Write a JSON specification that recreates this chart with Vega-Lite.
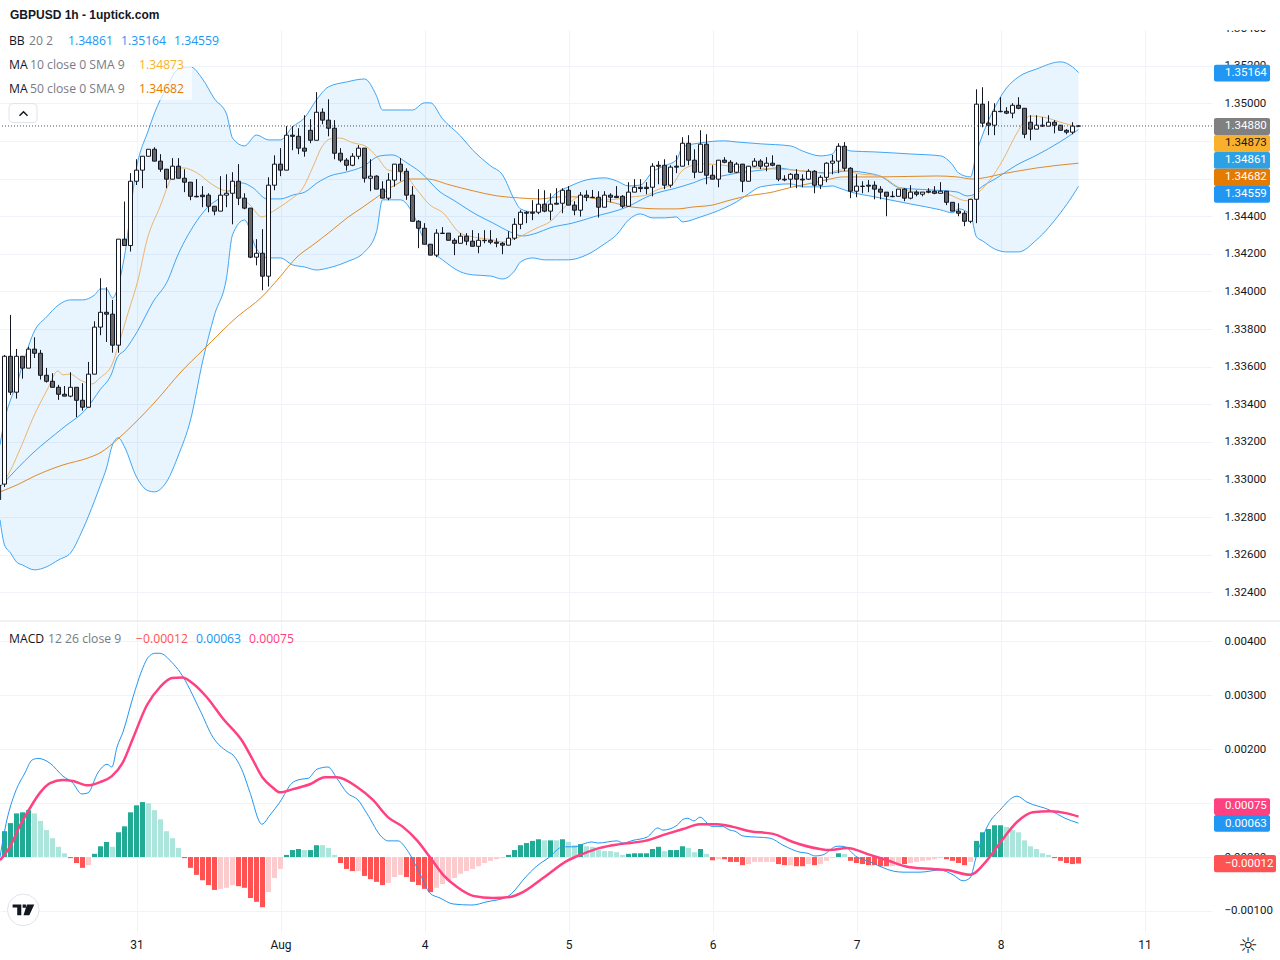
{
"$schema":"https://vega.github.io/schema/vega-lite/v6.json",
"padding":{"left":-1,"top":0,"right":0,"bottom":0},"spacing":0,"background":"white",
"resolve":{"scale":{"color":"independent"}},
"config":{"view":{"stroke":null},"text":{"font":"Open Sans"}},
"datasets":{
"candles":[
{"t":1.35,"o":1.32944,"h":1.32971,"l":1.32891,"c":1.3296},
{"t":2,"o":1.32975,"h":1.33662,"l":1.3296,"c":1.33655},{"t":3,"o":1.33655,"h":1.33875,"l":1.33449,"c":1.33464},{"t":4,"o":1.33464,"h":1.33694,"l":1.3343,"c":1.33655},{"t":5,"o":1.33655,"h":1.33655,"l":1.33536,"c":1.33592},{"t":6,"o":1.33592,"h":1.33706,"l":1.33592,"c":1.33693},{"t":7,"o":1.33693,"h":1.33756,"l":1.33646,"c":1.33671},{"t":8,"o":1.33671,"h":1.33689,"l":1.33531,"c":1.33554},{"t":9,"o":1.33554,"h":1.33593,"l":1.33515,"c":1.33522},{"t":10,"o":1.33522,"h":1.33565,"l":1.3349,"c":1.3349},
{"t":11,"o":1.3349,"h":1.33503,"l":1.33423,"c":1.33453},{"t":12,"o":1.33453,"h":1.33497,"l":1.33443,"c":1.33443},{"t":13,"o":1.33443,"h":1.3357,"l":1.33437,"c":1.3349},{"t":14,"o":1.3349,"h":1.3349,"l":1.33331,"c":1.33421},{"t":15,"o":1.33421,"h":1.33512,"l":1.33366,"c":1.33384},{"t":16,"o":1.33384,"h":1.33625,"l":1.33384,"c":1.3356},{"t":17,"o":1.3356,"h":1.33841,"l":1.3356,"c":1.3381},{"t":18,"o":1.3381,"h":1.3407,"l":1.33767,"c":1.33889},{"t":19,"o":1.33889,"h":1.34022,"l":1.33731,"c":1.33879},{"t":20,"o":1.33879,"h":1.33955,"l":1.33674,"c":1.33714},
{"t":21,"o":1.33714,"h":1.34278,"l":1.33674,"c":1.34278},{"t":22,"o":1.34278,"h":1.34478,"l":1.34244,"c":1.34244},{"t":23,"o":1.34244,"h":1.34629,"l":1.34212,"c":1.34586},{"t":24,"o":1.34586,"h":1.34703,"l":1.34566,"c":1.34645},{"t":25,"o":1.34645,"h":1.34719,"l":1.34549,"c":1.34719},{"t":26,"o":1.34719,"h":1.34756,"l":1.34719,"c":1.34756},{"t":27,"o":1.34756,"h":1.34767,"l":1.34693,"c":1.34693},{"t":28,"o":1.34693,"h":1.3473,"l":1.34636,"c":1.3465},{"t":29,"o":1.3465,"h":1.3465,"l":1.34549,"c":1.34597},{"t":30,"o":1.34597,"h":1.34709,"l":1.34597,"c":1.34666},
{"t":31,"o":1.34666,"h":1.34709,"l":1.34602,"c":1.34602},{"t":32,"o":1.34602,"h":1.3465,"l":1.34528,"c":1.34581},{"t":33,"o":1.34581,"h":1.34581,"l":1.34485,"c":1.34506},{"t":34,"o":1.34506,"h":1.34597,"l":1.34501,"c":1.34503},{"t":35,"o":1.34512,"h":1.3456,"l":1.34448,"c":1.34504},{"t":36,"o":1.34512,"h":1.34522,"l":1.34421,"c":1.34453},{"t":37,"o":1.34453,"h":1.34453,"l":1.34405,"c":1.34427},{"t":38,"o":1.34427,"h":1.34613,"l":1.34427,"c":1.34512},{"t":39,"o":1.34512,"h":1.34623,"l":1.34448,"c":1.34522},{"t":40,"o":1.34522,"h":1.34634,"l":1.34357,"c":1.34586},
{"t":41,"o":1.34586,"h":1.34677,"l":1.34459,"c":1.34496},{"t":42,"o":1.34496,"h":1.34522,"l":1.34437,"c":1.34443},{"t":43,"o":1.34443,"h":1.34443,"l":1.34177,"c":1.34182},{"t":44,"o":1.34182,"h":1.34278,"l":1.34139,"c":1.34203},{"t":45,"o":1.34203,"h":1.34331,"l":1.34006,"c":1.34081},{"t":46,"o":1.34081,"h":1.34607,"l":1.34026,"c":1.34565},{"t":47,"o":1.34565,"h":1.34724,"l":1.34538,"c":1.34677},{"t":48,"o":1.34677,"h":1.34762,"l":1.34613,"c":1.34645},{"t":49,"o":1.34645,"h":1.34879,"l":1.34645,"c":1.34831},{"t":50,"o":1.34831,"h":1.34879,"l":1.34751,"c":1.34825},
{"t":51,"o":1.34825,"h":1.34868,"l":1.3473,"c":1.34762},{"t":52,"o":1.34762,"h":1.34937,"l":1.34717,"c":1.34746},{"t":53,"o":1.34857,"h":1.34916,"l":1.34788,"c":1.34804},{"t":54,"o":1.34804,"h":1.3506,"l":1.34804,"c":1.34953},{"t":55,"o":1.34953,"h":1.34974,"l":1.34889,"c":1.34911},{"t":56,"o":1.34911,"h":1.35022,"l":1.34825,"c":1.34868},{"t":57,"o":1.34868,"h":1.34911,"l":1.34703,"c":1.34735},{"t":58,"o":1.34735,"h":1.34762,"l":1.34687,"c":1.34698},{"t":59,"o":1.34698,"h":1.34709,"l":1.34643,"c":1.34671},{"t":60,"o":1.34671,"h":1.34735,"l":1.34666,"c":1.34719},
{"t":61,"o":1.34719,"h":1.34778,"l":1.34703,"c":1.34762},{"t":62,"o":1.34762,"h":1.34762,"l":1.34579,"c":1.34602},{"t":63,"o":1.34602,"h":1.34703,"l":1.34533,"c":1.34613},{"t":64,"o":1.34613,"h":1.34618,"l":1.34544,"c":1.34544},{"t":65,"o":1.34544,"h":1.34586,"l":1.34496,"c":1.34496},{"t":66,"o":1.34496,"h":1.34629,"l":1.34485,"c":1.34592},{"t":67,"o":1.34592,"h":1.34677,"l":1.34557,"c":1.34677},{"t":68,"o":1.34677,"h":1.34709,"l":1.34586,"c":1.34639},{"t":69,"o":1.34639,"h":1.34655,"l":1.34487,"c":1.34512},{"t":70,"o":1.34512,"h":1.3456,"l":1.34373,"c":1.34373},
{"t":71,"o":1.34373,"h":1.34379,"l":1.3423,"c":1.34336},{"t":72,"o":1.34336,"h":1.34363,"l":1.34251,"c":1.34251},{"t":73,"o":1.34251,"h":1.34251,"l":1.34193,"c":1.34193},{"t":74,"o":1.34193,"h":1.34331,"l":1.34182,"c":1.3431},{"t":75,"o":1.34308,"h":1.34342,"l":1.34308,"c":1.3431},{"t":76,"o":1.3431,"h":1.3431,"l":1.34272,"c":1.34272},{"t":77,"o":1.34272,"h":1.34283,"l":1.34193,"c":1.34256},{"t":78,"o":1.34256,"h":1.3431,"l":1.34256,"c":1.34294},{"t":79,"o":1.34294,"h":1.3431,"l":1.34246,"c":1.34267},{"t":80,"o":1.34267,"h":1.34326,"l":1.3424,"c":1.3424},
{"t":81,"o":1.3424,"h":1.3431,"l":1.34203,"c":1.34272},{"t":82,"o":1.3427,"h":1.34326,"l":1.34256,"c":1.34272},{"t":83,"o":1.34272,"h":1.34326,"l":1.34251,"c":1.34262},{"t":84,"o":1.34262,"h":1.34283,"l":1.34235,"c":1.34256},{"t":85,"o":1.34256,"h":1.34262,"l":1.34198,"c":1.34246},{"t":86,"o":1.34246,"h":1.3432,"l":1.34246,"c":1.34283},{"t":87,"o":1.34283,"h":1.34389,"l":1.34274,"c":1.34357},{"t":88,"o":1.34357,"h":1.34432,"l":1.34331,"c":1.34421},{"t":89,"o":1.34421,"h":1.34427,"l":1.34363,"c":1.34416},{"t":90,"o":1.34421,"h":1.34485,"l":1.34379,"c":1.34416},
{"t":91,"o":1.34421,"h":1.34544,"l":1.34411,"c":1.34464},{"t":92,"o":1.34464,"h":1.34538,"l":1.34421,"c":1.34427},{"t":93,"o":1.34427,"h":1.34522,"l":1.34379,"c":1.34464},{"t":94,"o":1.34469,"h":1.34549,"l":1.34464,"c":1.34464},{"t":95,"o":1.34469,"h":1.34549,"l":1.34416,"c":1.34538},{"t":96,"o":1.34538,"h":1.3456,"l":1.34459,"c":1.34459},{"t":97,"o":1.34459,"h":1.3448,"l":1.34405,"c":1.34432},{"t":98,"o":1.34432,"h":1.34528,"l":1.34398,"c":1.34512},{"t":99,"o":1.34512,"h":1.34538,"l":1.3448,"c":1.34501},{"t":100,"o":1.34499,"h":1.3454,"l":1.34499,"c":1.34501},
{"t":101,"o":1.34501,"h":1.34533,"l":1.34393,"c":1.34448},{"t":102,"o":1.34448,"h":1.34533,"l":1.34448,"c":1.34512},{"t":103,"o":1.34512,"h":1.34522,"l":1.34474,"c":1.34501},{"t":104,"o":1.34506,"h":1.3456,"l":1.34499,"c":1.34499},{"t":105,"o":1.34506,"h":1.34512,"l":1.34443,"c":1.34453},{"t":106,"o":1.34453,"h":1.34581,"l":1.34453,"c":1.34528},{"t":107,"o":1.34528,"h":1.34597,"l":1.34528,"c":1.34554},{"t":108,"o":1.34554,"h":1.34597,"l":1.34528,"c":1.34547},{"t":109,"o":1.34554,"h":1.34581,"l":1.34517,"c":1.34547},{"t":110,"o":1.34554,"h":1.34682,"l":1.34506,"c":1.34666},
{"t":111,"o":1.34671,"h":1.34693,"l":1.3457,"c":1.34666},{"t":112,"o":1.34671,"h":1.34703,"l":1.34544,"c":1.34565},{"t":113,"o":1.34565,"h":1.34671,"l":1.34552,"c":1.34661},{"t":114,"o":1.34666,"h":1.34724,"l":1.34629,"c":1.34661},{"t":115,"o":1.34666,"h":1.3482,"l":1.34666,"c":1.34788},{"t":116,"o":1.34788,"h":1.34831,"l":1.34671,"c":1.34698},{"t":117,"o":1.34698,"h":1.34756,"l":1.34602,"c":1.34634},{"t":118,"o":1.34634,"h":1.34857,"l":1.34634,"c":1.34783},{"t":119,"o":1.34783,"h":1.34836,"l":1.3457,"c":1.34618},{"t":120,"o":1.34618,"h":1.34671,"l":1.34597,"c":1.34597},
{"t":121,"o":1.34597,"h":1.34698,"l":1.34554,"c":1.34698},{"t":122,"o":1.34698,"h":1.34714,"l":1.34682,"c":1.34687},{"t":123,"o":1.34687,"h":1.34698,"l":1.34629,"c":1.34634},{"t":124,"o":1.34634,"h":1.34687,"l":1.34629,"c":1.34677},{"t":125,"o":1.34677,"h":1.34677,"l":1.34528,"c":1.34586},{"t":126,"o":1.34586,"h":1.34666,"l":1.34586,"c":1.34666},{"t":127,"o":1.34666,"h":1.34709,"l":1.34661,"c":1.34693},{"t":128,"o":1.34693,"h":1.34703,"l":1.3465,"c":1.34666},{"t":129,"o":1.34666,"h":1.34714,"l":1.34639,"c":1.34682},{"t":130,"o":1.34682,"h":1.34724,"l":1.34666,"c":1.34671},
{"t":131,"o":1.34671,"h":1.34671,"l":1.34586,"c":1.34597},{"t":132,"o":1.34597,"h":1.34618,"l":1.34586,"c":1.34593},{"t":133,"o":1.34597,"h":1.34629,"l":1.34554,"c":1.34623},{"t":134,"o":1.34623,"h":1.3465,"l":1.34549,"c":1.34597},{"t":135,"o":1.34597,"h":1.34623,"l":1.34554,"c":1.34593},{"t":136,"o":1.34597,"h":1.3465,"l":1.34593,"c":1.34639},{"t":137,"o":1.34639,"h":1.34645,"l":1.34522,"c":1.34565},{"t":138,"o":1.34565,"h":1.34618,"l":1.34544,"c":1.34607},{"t":139,"o":1.34607,"h":1.34687,"l":1.34581,"c":1.34682},{"t":140,"o":1.34682,"h":1.34726,"l":1.34623,"c":1.34693},
{"t":141,"o":1.34693,"h":1.34788,"l":1.34629,"c":1.34772},{"t":142,"o":1.34772,"h":1.34794,"l":1.34639,"c":1.34655},{"t":143,"o":1.34655,"h":1.34661,"l":1.34496,"c":1.34533},{"t":144,"o":1.34533,"h":1.34623,"l":1.34501,"c":1.3456},{"t":145,"o":1.34558,"h":1.34586,"l":1.34522,"c":1.3456},{"t":146,"o":1.34565,"h":1.34592,"l":1.34528,"c":1.3456},{"t":147,"o":1.34565,"h":1.34586,"l":1.3449,"c":1.34544},{"t":148,"o":1.34544,"h":1.3456,"l":1.3449,"c":1.34528},{"t":149,"o":1.34528,"h":1.34528,"l":1.344,"c":1.34506},{"t":150,"o":1.34504,"h":1.34533,"l":1.34501,"c":1.34506},
{"t":151,"o":1.34506,"h":1.34544,"l":1.34506,"c":1.34544},{"t":152,"o":1.34544,"h":1.34549,"l":1.3448,"c":1.34496},{"t":153,"o":1.34496,"h":1.34565,"l":1.3449,"c":1.34528},{"t":154,"o":1.34528,"h":1.34538,"l":1.34506,"c":1.34517},{"t":155,"o":1.34517,"h":1.34528,"l":1.34506,"c":1.34528},{"t":156,"o":1.34533,"h":1.34549,"l":1.34522,"c":1.34528},{"t":157,"o":1.34533,"h":1.3456,"l":1.34517,"c":1.34522},{"t":158,"o":1.34522,"h":1.34581,"l":1.34522,"c":1.34533},{"t":159,"o":1.34533,"h":1.34533,"l":1.34459,"c":1.34474},{"t":160,"o":1.34474,"h":1.34474,"l":1.34427,"c":1.34427},
{"t":161,"o":1.34427,"h":1.34469,"l":1.344,"c":1.34416},{"t":162,"o":1.34416,"h":1.34427,"l":1.34347,"c":1.34373},{"t":163,"o":1.34373,"h":1.3449,"l":1.34363,"c":1.3449},{"t":164,"o":1.3449,"h":1.35075,"l":1.34363,"c":1.34996},{"t":165,"o":1.34996,"h":1.35086,"l":1.34873,"c":1.34895},{"t":166,"o":1.34895,"h":1.35012,"l":1.34831,"c":1.34884},{"t":167,"o":1.34884,"h":1.35001,"l":1.34831,"c":1.34958},{"t":168,"o":1.34956,"h":1.35033,"l":1.34953,"c":1.34958},{"t":169,"o":1.34958,"h":1.3498,"l":1.34943,"c":1.34948},{"t":170,"o":1.34948,"h":1.35001,"l":1.34921,"c":1.3499},
{"t":171,"o":1.3499,"h":1.35033,"l":1.34969,"c":1.34974},{"t":172,"o":1.34974,"h":1.34974,"l":1.34815,"c":1.34836},{"t":173,"o":1.349,"h":1.34937,"l":1.34804,"c":1.34863},{"t":174,"o":1.34863,"h":1.34937,"l":1.34863,"c":1.34884},{"t":175,"o":1.34884,"h":1.34927,"l":1.34875,"c":1.34879},{"t":176,"o":1.34879,"h":1.34937,"l":1.34879,"c":1.349},{"t":177,"o":1.349,"h":1.34911,"l":1.34841,"c":1.34884},{"t":178,"o":1.34884,"h":1.34884,"l":1.34857,"c":1.34857},{"t":179,"o":1.34857,"h":1.34863,"l":1.34836,"c":1.34847},{"t":180,"o":1.34847,"h":1.349,"l":1.34836,"c":1.34879},{"t":181,"o":1.34879,"h":1.34884,"l":1.34876,"c":1.3488}
],
"bands":[
{"t":1.25,"u":1.33184,"d":1.32785},{"t":2,"u":1.33316,"d":1.32652},{"t":3,"u":1.33423,"d":1.32609},{"t":4,"u":1.33503,"d":1.32561},{"t":5,"u":1.33609,"d":1.32545},{"t":7,"u":1.3379,"d":1.32519},{"t":9,"u":1.33864,"d":1.32535},{"t":11,"u":1.33928,"d":1.32572},{"t":13,"u":1.33955,"d":1.32609},{"t":15,"u":1.33955,"d":1.32731},{"t":17,"u":1.33981,"d":1.32886},{"t":18,"u":1.34013,"d":1.32971},{"t":19,"u":1.34013,"d":1.33061},{"t":20,"u":1.33965,"d":1.33184},{"t":21,"u":1.34035,"d":1.33221},{"t":22,"u":1.34189,"d":1.33173},{"t":24,"u":1.34657,"d":1.33013},{"t":26,"u":1.34859,"d":1.32939},{"t":27,"u":1.34949,"d":1.32934},{"t":29,"u":1.35082,"d":1.32987},{"t":31,"u":1.35183,"d":1.3313},{"t":33,"u":1.35194,"d":1.33316},{"t":35,"u":1.3513,"d":1.33625},{"t":37,"u":1.35024,"d":1.33875},{"t":39,"u":1.34944,"d":1.34072},{"t":40,"u":1.34816,"d":1.34301},{"t":42,"u":1.34774,"d":1.3438},{"t":44,"u":1.34832,"d":1.34226},{"t":46,"u":1.34806,"d":1.34178},{"t":48,"u":1.34806,"d":1.34178},{"t":50,"u":1.34875,"d":1.34141},{"t":52,"u":1.34923,"d":1.3413},{"t":54,"u":1.35019,"d":1.34114},{"t":56,"u":1.35088,"d":1.34125},{"t":59,"u":1.35114,"d":1.34157},{"t":62,"u":1.3513,"d":1.3421},{"t":64,"u":1.3504,"d":1.34317},{"t":65,"u":1.34965,"d":1.34487},{"t":68,"u":1.34965,"d":1.34487},{"t":70,"u":1.34965,"d":1.34418},{"t":72,"u":1.35003,"d":1.34269},{"t":73,"u":1.35003,"d":1.34221},{"t":75,"u":1.34918,"d":1.34168},{"t":78,"u":1.34827,"d":1.34104},{"t":80,"u":1.34753,"d":1.34088},{"t":83,"u":1.34668,"d":1.34082},{"t":85,"u":1.3462,"d":1.34066},{"t":87,"u":1.34487,"d":1.34109},{"t":88,"u":1.34439,"d":1.34157},{"t":90,"u":1.34423,"d":1.34178},{"t":92,"u":1.3446,"d":1.34168},{"t":94,"u":1.34524,"d":1.34168},{"t":96,"u":1.34556,"d":1.34168},{"t":99,"u":1.34593,"d":1.34194},{"t":102,"u":1.34604,"d":1.34253},{"t":104,"u":1.34588,"d":1.34301},{"t":106,"u":1.34561,"d":1.3438},{"t":108,"u":1.34566,"d":1.34412},{"t":110,"u":1.34636,"d":1.34391},{"t":112,"u":1.34668,"d":1.34391},{"t":114,"u":1.34699,"d":1.34396},{"t":115,"u":1.34769,"d":1.3437},{"t":118,"u":1.3479,"d":1.34396},{"t":122,"u":1.34801,"d":1.34444},{"t":124,"u":1.34795,"d":1.34476},{"t":126,"u":1.3479,"d":1.34519},{"t":128,"u":1.34785,"d":1.34556},{"t":133,"u":1.34774,"d":1.34572},{"t":135,"u":1.34747,"d":1.34556},{"t":138,"u":1.34721,"d":1.34556},{"t":140,"u":1.34731,"d":1.34561},{"t":141,"u":1.34774,"d":1.34551},{"t":143,"u":1.34747,"d":1.34529},{"t":147,"u":1.34742,"d":1.34503},{"t":153,"u":1.34731,"d":1.34465},{"t":158,"u":1.34721,"d":1.34434},{"t":160,"u":1.34673,"d":1.34418},{"t":161,"u":1.3463,"d":1.34439},{"t":163,"u":1.34609,"d":1.34407},{"t":164,"u":1.34737,"d":1.3429},{"t":165,"u":1.34832,"d":1.34269},{"t":167,"u":1.34976,"d":1.34226},{"t":169,"u":1.35082,"d":1.3421},{"t":171,"u":1.35141,"d":1.3421},{"t":174,"u":1.35183,"d":1.34274},{"t":178,"u":1.35221,"d":1.34418},{"t":180,"u":1.35194,"d":1.34508},{"t":181,"u":1.35164,"d":1.34559}
],
"basis":[
{"t":1.25,"v":1.3296},{"t":6.75,"v":1.33141},{"t":11.75,"v":1.33274},{"t":15.75,"v":1.3338},{"t":17.9,"v":1.33476},{"t":19.9,"v":1.33566},{"t":20.75,"v":1.33646},{"t":22.1,"v":1.33689},{"t":24.1,"v":1.33785},{"t":26.75,"v":1.33944},{"t":29.25,"v":1.34061},{"t":30.75,"v":1.34183},{"t":33.4,"v":1.34343},{"t":35.9,"v":1.34449},{"t":37.9,"v":1.34497},{"t":39.6,"v":1.3454},{"t":41.6,"v":1.34577},{"t":43.4,"v":1.34551},{"t":45.75,"v":1.34492},{"t":48,"v":1.34492},{"t":50.1,"v":1.34513},{"t":52.1,"v":1.34529},{"t":54.1,"v":1.34577},{"t":56.25,"v":1.34614},{"t":59.1,"v":1.34636},{"t":61.6,"v":1.34662},{"t":64.6,"v":1.34721},{"t":66.6,"v":1.34726},{"t":69.1,"v":1.34683},{"t":71.25,"v":1.34636},{"t":74.6,"v":1.34529},{"t":76.75,"v":1.34487},{"t":80.75,"v":1.34407},{"t":83.4,"v":1.34364},{"t":86.25,"v":1.34317},{"t":88.4,"v":1.34295},{"t":90.75,"v":1.34311},{"t":92.9,"v":1.34338},{"t":96.75,"v":1.34364},{"t":100.1,"v":1.34396},{"t":105.75,"v":1.34449},{"t":109.1,"v":1.34503},{"t":110.75,"v":1.34524},{"t":113.4,"v":1.34545},{"t":116.75,"v":1.34577},{"t":119.1,"v":1.34604},{"t":120.75,"v":1.34609},{"t":124.1,"v":1.3463},{"t":128.4,"v":1.34646},{"t":130.75,"v":1.34657},{"t":133.4,"v":1.34646},{"t":136.25,"v":1.34636},{"t":139.6,"v":1.3463},{"t":142.4,"v":1.34641},{"t":145.75,"v":1.3463},{"t":147.9,"v":1.34614},{"t":151.25,"v":1.34551},{"t":156.25,"v":1.3454},{"t":160.75,"v":1.34529},{"t":162.4,"v":1.34508},{"t":163.4,"v":1.34513},{"t":164.25,"v":1.3454},{"t":167.4,"v":1.34604},{"t":170.75,"v":1.34673},{"t":174.1,"v":1.34726},{"t":177.9,"v":1.34795},{"t":181,"v":1.34861}
],
"ma10":[
{"t":1.25,"v":1.3296},{"t":2.4,"v":1.33013},{"t":4.9,"v":1.33184},{"t":6.75,"v":1.33327},{"t":9.1,"v":1.33476},{"t":10.9,"v":1.33577},{"t":11.75,"v":1.33556},{"t":12.9,"v":1.33561},{"t":14.6,"v":1.33529},{"t":16.6,"v":1.33508},{"t":17.9,"v":1.3354},{"t":19.9,"v":1.33609},{"t":20.9,"v":1.33705},{"t":22.6,"v":1.33886},{"t":24.25,"v":1.34061},{"t":25.75,"v":1.34274},{"t":27.9,"v":1.34449},{"t":30.1,"v":1.3462},{"t":31.75,"v":1.34657},{"t":34.1,"v":1.3463},{"t":36.25,"v":1.34577},{"t":38.25,"v":1.3454},{"t":40.1,"v":1.34529},{"t":42.9,"v":1.3446},{"t":44.9,"v":1.34396},{"t":46.6,"v":1.34423},{"t":47.9,"v":1.34449},{"t":49.6,"v":1.34487},{"t":51.75,"v":1.34551},{"t":53.4,"v":1.34662},{"t":54.9,"v":1.34769},{"t":56.25,"v":1.34811},{"t":57.9,"v":1.34816},{"t":60.1,"v":1.3479},{"t":62.1,"v":1.34774},{"t":64.1,"v":1.34715},{"t":65.9,"v":1.34646},{"t":68.4,"v":1.3463},{"t":70.75,"v":1.3454},{"t":72.9,"v":1.3446},{"t":75.1,"v":1.34418},{"t":77.9,"v":1.34311},{"t":80.1,"v":1.3429},{"t":83.4,"v":1.34274},{"t":85.1,"v":1.34263},{"t":87.4,"v":1.34285},{"t":90.75,"v":1.34338},{"t":92.9,"v":1.3437},{"t":95.75,"v":1.3446},{"t":97.9,"v":1.34503},{"t":100.75,"v":1.34492},{"t":102.4,"v":1.34487},{"t":106.6,"v":1.34503},{"t":109.1,"v":1.34513},{"t":110.75,"v":1.3454},{"t":113.4,"v":1.34572},{"t":114.6,"v":1.3463},{"t":115.9,"v":1.34662},{"t":118.4,"v":1.34678},{"t":121.25,"v":1.34673},{"t":124.1,"v":1.34662},{"t":127.4,"v":1.34657},{"t":130.1,"v":1.34651},{"t":133.4,"v":1.34646},{"t":136.75,"v":1.34636},{"t":139.1,"v":1.34625},{"t":141.25,"v":1.34646},{"t":144.6,"v":1.34625},{"t":147.9,"v":1.34614},{"t":151.25,"v":1.34551},{"t":154.1,"v":1.34529},{"t":158.4,"v":1.34524},{"t":162.4,"v":1.34482},{"t":163.4,"v":1.34503},{"t":166.25,"v":1.34593},{"t":168.4,"v":1.34699},{"t":170.75,"v":1.34843},{"t":172.9,"v":1.34933},{"t":175.75,"v":1.34923},{"t":177.9,"v":1.34901},{"t":181,"v":1.34873}
],
"ma50":[
{"t":1.25,"v":1.32934},{"t":4.1,"v":1.32971},{"t":7.1,"v":1.33019},{"t":11.75,"v":1.33077},{"t":15.9,"v":1.33114},{"t":17.9,"v":1.33141},{"t":20.9,"v":1.33215},{"t":23.4,"v":1.3329},{"t":27.4,"v":1.33423},{"t":31.25,"v":1.33566},{"t":35.1,"v":1.33689},{"t":40.75,"v":1.33864},{"t":44.9,"v":1.33971},{"t":47.9,"v":1.34077},{"t":50.75,"v":1.34183},{"t":53.4,"v":1.34247},{"t":56.25,"v":1.34317},{"t":59.1,"v":1.34391},{"t":61.75,"v":1.34449},{"t":64.6,"v":1.34513},{"t":67.1,"v":1.34566},{"t":69.6,"v":1.34598},{"t":72.4,"v":1.34598},{"t":76.25,"v":1.34566},{"t":80.1,"v":1.34535},{"t":84.1,"v":1.34508},{"t":87.9,"v":1.34497},{"t":91.25,"v":1.34492},{"t":94.6,"v":1.34503},{"t":98.4,"v":1.34503},{"t":102.9,"v":1.34476},{"t":106.6,"v":1.34449},{"t":111.25,"v":1.34439},{"t":114.1,"v":1.34439},{"t":116.75,"v":1.34449},{"t":120.1,"v":1.3446},{"t":122.4,"v":1.34481},{"t":125.1,"v":1.34503},{"t":130.1,"v":1.34529},{"t":133.4,"v":1.34556},{"t":136.75,"v":1.34577},{"t":139.6,"v":1.34598},{"t":141.75,"v":1.34609},{"t":147.9,"v":1.34609},{"t":157.4,"v":1.34614},{"t":160.75,"v":1.34609},{"t":163.25,"v":1.34598},{"t":169.1,"v":1.3463},{"t":174.1,"v":1.34657},{"t":181,"v":1.34682}
],
"macd":[
{"t":1.25,"v":0},{"t":2.4,"v":0.00069},{"t":3.75,"v":0.00119},{"t":5.4,"v":0.00156},{"t":6.6,"v":0.0018},{"t":7.6,"v":0.00183},{"t":9.6,"v":0.00174},{"t":11.75,"v":0.0015},{"t":13.25,"v":0.00139},{"t":14.9,"v":0.00117},{"t":15.9,"v":0.00119},{"t":17.6,"v":0.00157},{"t":19.1,"v":0.00172},{"t":19.9,"v":0.00167},{"t":20.75,"v":0.00204},{"t":21.75,"v":0.00232},{"t":23.4,"v":0.00296},{"t":25.1,"v":0.00352},{"t":25.9,"v":0.0037},{"t":27.1,"v":0.00378},{"t":27.9,"v":0.00378},{"t":29.9,"v":0.00361},{"t":31.25,"v":0.00343},{"t":34.6,"v":0.00272},{"t":36.75,"v":0.00222},{"t":39.1,"v":0.00196},{"t":40.1,"v":0.00189},{"t":41.75,"v":0.00157},{"t":42.9,"v":0.0012},{"t":44.9,"v":0.00061},{"t":46.25,"v":0.00078},{"t":47.9,"v":0.00102},{"t":49.9,"v":0.00137},{"t":51.25,"v":0.00144},{"t":52.6,"v":0.00146},{"t":54.1,"v":0.00163},{"t":55.9,"v":0.00167},{"t":57.4,"v":0.00146},{"t":59.1,"v":0.00119},{"t":60.9,"v":0.00106},{"t":62.4,"v":0.00081},{"t":64.9,"v":0.00037},{"t":65.9,"v":0.0003},{"t":67.6,"v":0.0003},{"t":69.1,"v":0.00013},{"t":71.25,"v":-0.00031},{"t":72.9,"v":-0.00067},{"t":74.6,"v":-0.00076},{"t":76.75,"v":-0.00087},{"t":79.9,"v":-0.00089},{"t":82.4,"v":-0.00083},{"t":85.75,"v":-0.00074},{"t":87.1,"v":-0.00061},{"t":88.4,"v":-0.00043},{"t":90.9,"v":-0.00015},{"t":92.6,"v":-0.00002},{"t":95.1,"v":0.00019},{"t":97.1,"v":0.00019},{"t":98.4,"v":0.00024},{"t":99.9,"v":0.00028},{"t":100.9,"v":0.00026},{"t":104.1,"v":0.0003},{"t":105.1,"v":0.00026},{"t":106.75,"v":0.00031},{"t":109.1,"v":0.00037},{"t":110.9,"v":0.00054},{"t":111.75,"v":0.0005},{"t":114.1,"v":0.00059},{"t":115.1,"v":0.0007},{"t":115.9,"v":0.00072},{"t":116.9,"v":0.00067},{"t":117.9,"v":0.00074},{"t":119.9,"v":0.00057},{"t":121.6,"v":0.00057},{"t":122.9,"v":0.0005},{"t":123.75,"v":0.00048},{"t":125.1,"v":0.00039},{"t":129.6,"v":0.00035},{"t":131.75,"v":0.00022},{"t":134.6,"v":0.00009},{"t":135.9,"v":0.00007},{"t":137.1,"v":0.00002},{"t":138.4,"v":0.00004},{"t":140.75,"v":0.0002},{"t":141.75,"v":0.0002},{"t":144.1,"v":0},{"t":146.25,"v":-0.00009},{"t":150.1,"v":-0.00026},{"t":151.75,"v":-0.00028},{"t":154.6,"v":-0.00028},{"t":157.9,"v":-0.00024},{"t":160.1,"v":-0.00033},{"t":161.75,"v":-0.00044},{"t":162.9,"v":-0.00039},{"t":164.1,"v":0.00007},{"t":165.9,"v":0.00059},{"t":167.9,"v":0.00087},{"t":170.75,"v":0.00113},{"t":172.4,"v":0.00102},{"t":176.25,"v":0.00087},{"t":178.75,"v":0.00072},{"t":181,"v":0.00063}
],
"signal":[
{"t":1.25,"v":-0.00006},{"t":2.9,"v":0.00019},{"t":4.6,"v":0.00059},{"t":6.25,"v":0.00091},{"t":7.9,"v":0.00119},{"t":9.6,"v":0.00137},{"t":11.75,"v":0.00143},{"t":13.4,"v":0.00141},{"t":15.9,"v":0.00133},{"t":17.9,"v":0.00139},{"t":19.9,"v":0.0015},{"t":21.75,"v":0.00176},{"t":23.4,"v":0.0022},{"t":25.75,"v":0.00282},{"t":27.9,"v":0.00315},{"t":29.9,"v":0.00332},{"t":31.6,"v":0.00333},{"t":33.4,"v":0.00322},{"t":35.75,"v":0.00296},{"t":38.4,"v":0.00257},{"t":41.75,"v":0.00213},{"t":43.4,"v":0.0018},{"t":45.1,"v":0.00146},{"t":46.6,"v":0.0013},{"t":47.9,"v":0.0012},{"t":50.1,"v":0.00126},{"t":52.9,"v":0.00135},{"t":55.4,"v":0.00148},{"t":57.4,"v":0.00148},{"t":60.75,"v":0.0013},{"t":63.4,"v":0.00106},{"t":65.9,"v":0.00074},{"t":68.4,"v":0.00056},{"t":70.75,"v":0.00031},{"t":72.9,"v":0},{"t":75.1,"v":-0.00033},{"t":77.6,"v":-0.00057},{"t":80.1,"v":-0.00072},{"t":83.4,"v":-0.00076},{"t":86.25,"v":-0.00074},{"t":88.4,"v":-0.00065},{"t":91.75,"v":-0.00039},{"t":95.75,"v":-0.00007},{"t":98.4,"v":0.00006},{"t":101.25,"v":0.00017},{"t":104.6,"v":0.00024},{"t":108.75,"v":0.0003},{"t":112.4,"v":0.00043},{"t":115.1,"v":0.00052},{"t":117.9,"v":0.00061},{"t":120.75,"v":0.00061},{"t":123.4,"v":0.00056},{"t":126.25,"v":0.00048},{"t":130.1,"v":0.00043},{"t":133.4,"v":0.00028},{"t":137.9,"v":0.00015},{"t":139.6,"v":0.00013},{"t":142.4,"v":0.00017},{"t":146.25,"v":0.00004},{"t":149.1,"v":-0.00006},{"t":152.9,"v":-0.00019},{"t":156.75,"v":-0.00022},{"t":159.1,"v":-0.00024},{"t":162.9,"v":-0.00033},{"t":165.75,"v":-0.00006},{"t":167.9,"v":0.00026},{"t":170.75,"v":0.00065},{"t":173.4,"v":0.00083},{"t":176.25,"v":0.00085},{"t":179.1,"v":0.00081},{"t":181,"v":0.00075}
],
"hist":[
{"t":2,"v":0.00048,"k":"gs"},{"t":3,"v":0.00063,"k":"gs"},{"t":4,"v":0.00081,"k":"gs"},{"t":5,"v":0.00083,"k":"gs"},{"t":6,"v":0.00087,"k":"gs"},{"t":7,"v":0.00081,"k":"gw"},{"t":8,"v":0.00067,"k":"gw"},{"t":9,"v":0.0005,"k":"gw"},{"t":10,"v":0.00035,"k":"gw"},{"t":11,"v":0.00019,"k":"gw"},{"t":12,"v":0.00007,"k":"gw"},{"t":13,"v":-0.00002,"k":"rs"},{"t":14,"v":-0.00011,"k":"rs"},{"t":15,"v":-0.0002,"k":"rs"},{"t":16,"v":-0.00015,"k":"rw"},{"t":17,"v":0.00006,"k":"gs"},{"t":18,"v":0.0002,"k":"gs"},{"t":19,"v":0.00028,"k":"gs"},{"t":20,"v":0.00019,"k":"gw"},{"t":21,"v":0.00046,"k":"gs"},{"t":22,"v":0.00057,"k":"gs"},{"t":23,"v":0.00083,"k":"gs"},{"t":24,"v":0.00096,"k":"gs"},{"t":25,"v":0.00102,"k":"gs"},{"t":26,"v":0.001,"k":"gw"},{"t":27,"v":0.00087,"k":"gw"},{"t":28,"v":0.0007,"k":"gw"},{"t":29,"v":0.00048,"k":"gw"},{"t":30,"v":0.00035,"k":"gw"},{"t":31,"v":0.00017,"k":"gw"},{"t":32,"v":-0.00002,"k":"rs"},{"t":33,"v":-0.0002,"k":"rs"},{"t":34,"v":-0.00033,"k":"rs"},{"t":35,"v":-0.00043,"k":"rs"},{"t":36,"v":-0.00052,"k":"rs"},{"t":37,"v":-0.00061,"k":"rs"},{"t":38,"v":-0.00059,"k":"rw"},{"t":39,"v":-0.00057,"k":"rw"},{"t":40,"v":-0.00052,"k":"rw"},{"t":41,"v":-0.00054,"k":"rs"},{"t":42,"v":-0.00057,"k":"rs"},{"t":43,"v":-0.00076,"k":"rs"},{"t":44,"v":-0.00083,"k":"rs"},{"t":45,"v":-0.00093,"k":"rs"},{"t":46,"v":-0.00065,"k":"rw"},{"t":47,"v":-0.00039,"k":"rw"},{"t":48,"v":-0.00022,"k":"rw"},{"t":49,"v":0.00004,"k":"gs"},{"t":50,"v":0.00013,"k":"gs"},{"t":51,"v":0.00015,"k":"gs"},{"t":52,"v":0.00013,"k":"gw"},{"t":53,"v":0.00013,"k":"gs"},{"t":54,"v":0.00022,"k":"gs"},{"t":55,"v":0.00022,"k":"gw"},{"t":56,"v":0.00017,"k":"gw"},{"t":57,"v":0.00004,"k":"gw"},{"t":58,"v":-0.00011,"k":"rs"},{"t":59,"v":-0.00022,"k":"rs"},{"t":60,"v":-0.00026,"k":"rs"},{"t":61,"v":-0.00026,"k":"rw"},{"t":62,"v":-0.00035,"k":"rs"},{"t":63,"v":-0.00041,"k":"rs"},{"t":64,"v":-0.00046,"k":"rs"},{"t":65,"v":-0.00052,"k":"rs"},{"t":66,"v":-0.00048,"k":"rw"},{"t":67,"v":-0.00037,"k":"rw"},{"t":68,"v":-0.00033,"k":"rw"},{"t":69,"v":-0.00037,"k":"rs"},{"t":70,"v":-0.00046,"k":"rs"},{"t":71,"v":-0.00052,"k":"rs"},{"t":72,"v":-0.00059,"k":"rs"},{"t":73,"v":-0.00065,"k":"rs"},{"t":74,"v":-0.00057,"k":"rw"},{"t":75,"v":-0.0005,"k":"rw"},{"t":76,"v":-0.00044,"k":"rw"},{"t":77,"v":-0.00039,"k":"rw"},{"t":78,"v":-0.00031,"k":"rw"},{"t":79,"v":-0.00026,"k":"rw"},{"t":80,"v":-0.00022,"k":"rw"},{"t":81,"v":-0.00017,"k":"rw"},{"t":82,"v":-0.00011,"k":"rw"},{"t":83,"v":-0.00007,"k":"rw"},{"t":84,"v":-0.00004,"k":"rw"},{"t":85,"v":-0.00002,"k":"rw"},{"t":86,"v":0.00004,"k":"gs"},{"t":87,"v":0.00013,"k":"gs"},{"t":88,"v":0.00022,"k":"gs"},{"t":89,"v":0.00026,"k":"gs"},{"t":90,"v":0.0003,"k":"gs"},{"t":91,"v":0.00033,"k":"gs"},{"t":92,"v":0.00031,"k":"gw"},{"t":93,"v":0.00031,"k":"gs"},{"t":94,"v":0.00031,"k":"gw"},{"t":95,"v":0.00033,"k":"gs"},{"t":96,"v":0.00028,"k":"gw"},{"t":97,"v":0.00022,"k":"gw"},{"t":98,"v":0.00024,"k":"gs"},{"t":99,"v":0.0002,"k":"gw"},{"t":100,"v":0.00019,"k":"gw"},{"t":101,"v":0.00013,"k":"gw"},{"t":102,"v":0.00011,"k":"gw"},{"t":103,"v":0.00011,"k":"gw"},{"t":104,"v":0.00009,"k":"gw"},{"t":105,"v":0.00004,"k":"gw"},{"t":106,"v":0.00006,"k":"gs"},{"t":107,"v":0.00007,"k":"gs"},{"t":108,"v":0.00007,"k":"gs"},{"t":109,"v":0.00007,"k":"gs"},{"t":110,"v":0.00015,"k":"gs"},{"t":111,"v":0.00019,"k":"gs"},{"t":112,"v":0.00011,"k":"gw"},{"t":113,"v":0.00013,"k":"gs"},{"t":114,"v":0.00013,"k":"gs"},{"t":115,"v":0.0002,"k":"gs"},{"t":116,"v":0.00017,"k":"gw"},{"t":117,"v":0.00009,"k":"gw"},{"t":118,"v":0.00015,"k":"gs"},{"t":119,"v":0.00006,"k":"gw"},{"t":120,"v":-0.00006,"k":"rs"},{"t":121,"v":-0.00004,"k":"rw"},{"t":122,"v":-0.00004,"k":"rs"},{"t":123,"v":-0.00009,"k":"rs"},{"t":124,"v":-0.00009,"k":"rs"},{"t":125,"v":-0.00015,"k":"rs"},{"t":126,"v":-0.00013,"k":"rw"},{"t":127,"v":-0.00009,"k":"rw"},{"t":128,"v":-0.00009,"k":"rw"},{"t":129,"v":-0.00009,"k":"rw"},{"t":130,"v":-0.00009,"k":"rw"},{"t":131,"v":-0.00013,"k":"rs"},{"t":132,"v":-0.00015,"k":"rs"},{"t":133,"v":-0.00015,"k":"rw"},{"t":134,"v":-0.00017,"k":"rs"},{"t":135,"v":-0.00017,"k":"rs"},{"t":136,"v":-0.00013,"k":"rw"},{"t":137,"v":-0.00015,"k":"rs"},{"t":138,"v":-0.00013,"k":"rw"},{"t":139,"v":-0.00007,"k":"rw"},{"t":140,"v":-0.00002,"k":"rw"},{"t":141,"v":0.00007,"k":"gs"},{"t":142,"v":0.00006,"k":"gw"},{"t":143,"v":-0.00007,"k":"rs"},{"t":144,"v":-0.00011,"k":"rs"},{"t":145,"v":-0.00013,"k":"rs"},{"t":146,"v":-0.00015,"k":"rs"},{"t":147,"v":-0.00015,"k":"rs"},{"t":148,"v":-0.00017,"k":"rs"},{"t":149,"v":-0.00017,"k":"rs"},{"t":150,"v":-0.00017,"k":"rw"},{"t":151,"v":-0.00015,"k":"rw"},{"t":152,"v":-0.00013,"k":"rs"},{"t":153,"v":-0.00011,"k":"rw"},{"t":154,"v":-0.00009,"k":"rw"},{"t":155,"v":-0.00007,"k":"rw"},{"t":156,"v":-0.00006,"k":"rw"},{"t":157,"v":-0.00004,"k":"rw"},{"t":158,"v":-0.00002,"k":"rw"},{"t":159,"v":-0.00004,"k":"rs"},{"t":160,"v":-0.00007,"k":"rs"},{"t":161,"v":-0.00011,"k":"rs"},{"t":162,"v":-0.00015,"k":"rs"},{"t":163,"v":-0.00009,"k":"rw"},{"t":164,"v":0.0003,"k":"gs"},{"t":165,"v":0.00046,"k":"gs"},{"t":166,"v":0.00052,"k":"gs"},{"t":167,"v":0.00059,"k":"gs"},{"t":168,"v":0.00059,"k":"gs"},{"t":169,"v":0.00056,"k":"gw"},{"t":170,"v":0.0005,"k":"gw"},{"t":171,"v":0.00046,"k":"gw"},{"t":172,"v":0.00031,"k":"gw"},{"t":173,"v":0.0002,"k":"gw"},{"t":174,"v":0.00015,"k":"gw"},{"t":175,"v":0.00007,"k":"gw"},{"t":176,"v":0.00004,"k":"gw"},{"t":177,"v":-0.00002,"k":"rs"},{"t":178,"v":-0.00007,"k":"rs"},{"t":179,"v":-0.00011,"k":"rs"},{"t":180,"v":-0.00013,"k":"rs"},{"t":181,"v":-0.00012,"k":"rs"}
],
"priceText":[
{"t":2.75,"p":1.35332,"s":"BB","r":"name"},{"t":6.08,"p":1.35332,"s":"20 2","r":"param"},{"t":12.58,"p":1.35332,"s":"1.34861","r":"bb"},{"t":21.42,"p":1.35332,"s":"1.35164","r":"bb"},{"t":30.25,"p":1.35332,"s":"1.34559","r":"bb"},
{"t":2.75,"p":1.35205,"s":"MA","r":"name"},{"t":6.25,"p":1.35205,"s":"10 close 0 SMA 9","r":"param"},{"t":24.42,"p":1.35205,"s":"1.34873","r":"ma10"},
{"t":2.75,"p":1.35077,"s":"MA","r":"name"},{"t":6.25,"p":1.35077,"s":"50 close 0 SMA 9","r":"param"},{"t":24.42,"p":1.35077,"s":"1.34682","r":"ma50"}
],
"priceTags":[
{"s":"1.35164","r":"bb","top":1.35205,"bot":1.35116,"mid":1.3516,"a":203.58,"b":212.92,"x":205.42},
{"s":"1.34880","r":"last","top":1.34923,"bot":1.34832,"mid":1.34878,"a":203.58,"b":212.92,"x":205.42},
{"s":"1.34873","r":"ma10","top":1.34832,"bot":1.34742,"mid":1.34787,"a":203.58,"b":212.92,"x":205.42},
{"s":"1.34861","r":"basis","top":1.34742,"bot":1.34652,"mid":1.34697,"a":203.58,"b":212.92,"x":205.42},
{"s":"1.34682","r":"ma50","top":1.34652,"bot":1.34561,"mid":1.34606,"a":203.58,"b":212.92,"x":205.42},
{"s":"1.34559","r":"bb","top":1.34561,"bot":1.34471,"mid":1.34516,"a":203.58,"b":212.92,"x":205.42}
],
"macdText":[
{"t":2.75,"p":0.00405,"s":"MACD","r":"name"},{"t":9.25,"p":0.00405,"s":"12 26 close 9","r":"param"},{"t":23.92,"p":0.00405,"s":"−0.00012","r":"rs"},{"t":33.92,"p":0.00405,"s":"0.00063","r":"macd"},{"t":42.75,"p":0.00405,"s":"0.00075","r":"signal"}
],
"macdTags":[
{"s":"0.00075","r":"signal","top":0.00109,"bot":0.00078,"mid":0.00094,"a":203.58,"b":212.92,"x":205.42},
{"s":"0.00063","r":"macd","top":0.00078,"bot":0.00047,"mid":0.00062,"a":203.58,"b":212.92,"x":205.42},
{"s":"−0.00012","r":"rs","top":0.00004,"bot":-0.00028,"mid":-0.00012,"a":203.58,"b":213.92,"x":205.42}
]
},
"vconcat":[
{"width":1212,"height":621,"layer":[
{"data":{"values":[{"a":1.25,"b":214.58,"top":1.3555,"bot":1.35391}]},"mark":{"type":"rect","color":"white"},
"encoding":{"x":{"field":"a","type":"quantitative","title":null,"scale":{"domain":[1.25,203.25],"nice":false,"zero":false,"padding":0},"axis":{"values":[24,48,72,96,120,144,168,192],"grid":true,"gridColor":"#f0f3fa","labels":false,"ticks":false,"domain":false,"title":null,"labelPadding":0,"minExtent":0,"maxExtent":0}},"x2":{"field":"b"},
"y":{"field":"top","type":"quantitative","title":null,"scale":{"domain":[1.32247,1.3555],"nice":false,"zero":false},"axis":{"orient":"right","values":[1.324,1.326,1.328,1.33,1.332,1.334,1.336,1.338,1.34,1.342,1.344,1.346,1.348,1.35,1.352,1.354],"labelExpr":"datum.value==1.346||datum.value==1.348?'':format(datum.value,'.5f')","grid":true,"gridColor":"#f0f3fa","ticks":false,"domain":false,"title":null,"labelPadding":12,"labelFont":"Roboto","labelFontSize":11.5,"labelColor":"#131722","labelOverlap":false,"labelBound":false,"labelFlush":false}},"y2":{"field":"bot"}}},
{"data":{"name":"bands"},"mark":{"type":"area","color":"#2196f3","opacity":0.1,"clip":true,"interpolate":"monotone"},"encoding":{"x":{"field":"t","type":"quantitative","scale":{"domain":[1.25,203.25],"nice":false,"zero":false}},"y":{"field":"u","type":"quantitative","scale":{"domain":[1.32247,1.3555],"nice":false,"zero":false}},"y2":{"field":"d"}}},
{"data":{"name":"bands"},"mark":{"type":"line","color":"#2196f3","strokeWidth":1,"opacity":0.85,"clip":true,"interpolate":"monotone"},"encoding":{"x":{"field":"t","type":"quantitative","scale":{"domain":[1.25,203.25],"nice":false,"zero":false}},"y":{"field":"u","type":"quantitative","scale":{"domain":[1.32247,1.3555],"nice":false,"zero":false}}}},
{"data":{"name":"bands"},"mark":{"type":"line","color":"#2196f3","strokeWidth":1,"opacity":0.85,"clip":true,"interpolate":"monotone"},"encoding":{"x":{"field":"t","type":"quantitative","scale":{"domain":[1.25,203.25],"nice":false,"zero":false}},"y":{"field":"d","type":"quantitative","scale":{"domain":[1.32247,1.3555],"nice":false,"zero":false}}}},
{"data":{"name":"basis"},"mark":{"type":"line","color":"#2196f3","strokeWidth":1,"opacity":0.85,"clip":true,"interpolate":"monotone"},"encoding":{"x":{"field":"t","type":"quantitative","scale":{"domain":[1.25,203.25],"nice":false,"zero":false}},"y":{"field":"v","type":"quantitative","scale":{"domain":[1.32247,1.3555],"nice":false,"zero":false}}}},
{"data":{"name":"ma10"},"mark":{"type":"line","color":"#eeb46a","strokeWidth":1,"clip":true,"interpolate":"monotone"},"encoding":{"x":{"field":"t","type":"quantitative","scale":{"domain":[1.25,203.25],"nice":false,"zero":false}},"y":{"field":"v","type":"quantitative","scale":{"domain":[1.32247,1.3555],"nice":false,"zero":false}}}},
{"data":{"name":"ma50"},"mark":{"type":"line","color":"#e08a28","strokeWidth":1,"clip":true,"interpolate":"monotone"},"encoding":{"x":{"field":"t","type":"quantitative","scale":{"domain":[1.25,203.25],"nice":false,"zero":false}},"y":{"field":"v","type":"quantitative","scale":{"domain":[1.32247,1.3555],"nice":false,"zero":false}}}},
{"data":{"name":"candles"},"mark":{"type":"rule","color":"#131722","strokeWidth":1,"clip":true},"encoding":{"x":{"field":"t","type":"quantitative","scale":{"domain":[1.25,203.25],"nice":false,"zero":false}},"y":{"field":"l","type":"quantitative","scale":{"domain":[1.32247,1.3555],"nice":false,"zero":false}},"y2":{"field":"h"}}},
{"data":{"name":"candles"},"transform":[{"filter":"datum.t>=2"}],"mark":{"type":"bar","size":4,"stroke":"#131722","strokeWidth":1,"clip":true},"encoding":{"x":{"field":"t","type":"quantitative","scale":{"domain":[1.25,203.25],"nice":false,"zero":false,"padding":0}},"y":{"field":"o","type":"quantitative","stack":null,"scale":{"domain":[1.32247,1.3555],"nice":false,"zero":false}},"y2":{"field":"c"},"color":{"condition":{"test":"datum.c>=datum.o","value":"#ffffff"},"value":"#666666"}}},
{"data":{"values":[{"p":1.3488}]},"mark":{"type":"rule","color":"#50535e","strokeWidth":1,"strokeDash":[1,2]},"encoding":{"y":{"field":"p","type":"quantitative","scale":{"domain":[1.32247,1.3555],"nice":false,"zero":false}}}},
{"data":{"values":[{"a":1.25,"b":214.58,"p":1.32247}]},"mark":{"type":"rule","color":"#e0e3eb","strokeWidth":1},"encoding":{"x":{"field":"a","type":"quantitative","scale":{"domain":[1.25,203.25],"nice":false,"zero":false}},"x2":{"field":"b"},"y":{"field":"p","type":"quantitative","scale":{"domain":[1.32247,1.3555],"nice":false,"zero":false}}}},
{"data":{"values":[{"a":1.25,"b":33.25,"top":1.35391,"bot":1.35018}]},"mark":{"type":"rect","color":"white","opacity":0.7},"encoding":{"x":{"field":"a","type":"quantitative","scale":{"domain":[1.25,203.25],"nice":false,"zero":false}},"x2":{"field":"b"},"y":{"field":"top","type":"quantitative","scale":{"domain":[1.32247,1.3555],"nice":false,"zero":false}},"y2":{"field":"bot"}}},
{"data":{"values":[{"t":2.92,"p":1.35468,"s":"GBPUSD 1h - 1uptick.com"}]},"mark":{"type":"text","align":"left","baseline":"middle","font":"Liberation Sans","fontWeight":"bold","fontSize":12,"color":"#131722"},"encoding":{"x":{"field":"t","type":"quantitative","scale":{"domain":[1.25,203.25],"nice":false,"zero":false}},"y":{"field":"p","type":"quantitative","scale":{"domain":[1.32247,1.3555],"nice":false,"zero":false}},"text":{"field":"s"}}},
{"data":{"name":"priceText"},"mark":{"type":"text","align":"left","baseline":"middle","font":"Open Sans","fontSize":12.2},"encoding":{"x":{"field":"t","type":"quantitative","scale":{"domain":[1.25,203.25],"nice":false,"zero":false}},"y":{"field":"p","type":"quantitative","scale":{"domain":[1.32247,1.3555],"nice":false,"zero":false}},"text":{"field":"s"},"color":{"field":"r","type":"nominal","legend":null,"scale":{"domain":["name","param","bb","ma10","ma50","last","basis"],"range":["#131722","#787b86","#2196f3","#f9b12d","#e57a00","#808080","#2ea1e5"]}}}},
{"data":{"name":"priceTags"},"mark":{"type":"rect","cornerRadius":2},"encoding":{"x":{"field":"a","type":"quantitative","scale":{"domain":[1.25,203.25],"nice":false,"zero":false}},"x2":{"field":"b"},"y":{"field":"top","type":"quantitative","scale":{"domain":[1.32247,1.3555],"nice":false,"zero":false}},"y2":{"field":"bot"},"color":{"field":"r","type":"nominal","legend":null,"scale":{"domain":["name","param","bb","ma10","ma50","last","basis"],"range":["#131722","#787b86","#2196f3","#f9b12d","#e57a00","#808080","#2ea1e5"]}}}},
{"data":{"name":"priceTags"},"mark":{"type":"text","align":"left","baseline":"middle","font":"Roboto","fontSize":11.5},"encoding":{"x":{"field":"x","type":"quantitative","scale":{"domain":[1.25,203.25],"nice":false,"zero":false}},"y":{"field":"mid","type":"quantitative","scale":{"domain":[1.32247,1.3555],"nice":false,"zero":false}},"text":{"field":"s"},"color":{"condition":{"test":"datum.r=='ma10'","value":"#131722"},"value":"#ffffff"}}},
{"data":{"values":[{"a":2.75,"b":7.42,"top":1.34999,"bot":1.34898}]},"mark":{"type":"rect","color":"white","stroke":"#e0e3eb","strokeWidth":1,"cornerRadius":4},"encoding":{"x":{"field":"a","type":"quantitative","scale":{"domain":[1.25,203.25],"nice":false,"zero":false}},"x2":{"field":"b"},"y":{"field":"top","type":"quantitative","scale":{"domain":[1.32247,1.3555],"nice":false,"zero":false}},"y2":{"field":"bot"}}},
{"data":{"values":[{"t":5.17,"p":1.34945}]},"mark":{"type":"point","shape":"M-1,0.5L0,-0.5L1,0.5","size":64,"filled":false,"stroke":"#131722","strokeWidth":1.5,"opacity":1},"encoding":{"x":{"field":"t","type":"quantitative","scale":{"domain":[1.25,203.25],"nice":false,"zero":false}},"y":{"field":"p","type":"quantitative","scale":{"domain":[1.32247,1.3555],"nice":false,"zero":false}}}}
]},
{"width":1212,"height":310,"layer":[
{"data":{"name":"hist"},"mark":{"type":"bar","size":5,"clip":true},"encoding":{"x":{"field":"t","type":"quantitative","title":null,"scale":{"domain":[1.25,203.25],"nice":false,"zero":false,"padding":0},"axis":{"values":[24,48,72,96,120,144,168,192],"labelExpr":"{24:'31',48:'Aug',72:'4',96:'5',120:'6',144:'7',168:'8',192:'11'}[datum.value]","grid":true,"gridColor":"#f0f3fa","ticks":false,"domain":false,"title":null,"labelPadding":7,"labelFont":"Roboto","labelFontSize":12,"labelColor":"#131722","labelFlush":false}},
"y":{"field":"v","type":"quantitative","title":null,"stack":null,"scale":{"domain":[-0.00139,0.00436],"nice":false,"zero":false},"axis":{"orient":"right","values":[-0.001,0,0.001,0.002,0.003,0.004],"labelExpr":"datum.value==0.001?'':format(datum.value,'.5f')","grid":true,"gridColor":"#f0f3fa","ticks":false,"domain":false,"title":null,"labelPadding":12,"labelFont":"Roboto","labelFontSize":11.5,"labelColor":"#131722","labelOverlap":false,"labelBound":false,"labelFlush":false}},
"color":{"field":"k","type":"nominal","legend":null,"scale":{"domain":["gs","gw","rs","rw","name","param","macd","signal"],"range":["#22ab94","#ace5dc","#ff5252","#fccbcd","#131722","#787b86","#2196f3","#ff4081"]}}}},
{"data":{"name":"macd"},"mark":{"type":"line","color":"#2196f3","strokeWidth":1,"clip":true,"interpolate":"monotone"},"encoding":{"x":{"field":"t","type":"quantitative","scale":{"domain":[1.25,203.25],"nice":false,"zero":false}},"y":{"field":"v","type":"quantitative","scale":{"domain":[-0.00139,0.00436],"nice":false,"zero":false}}}},
{"data":{"name":"signal"},"mark":{"type":"line","color":"#ff4081","strokeWidth":2.5,"clip":true,"interpolate":"monotone"},"encoding":{"x":{"field":"t","type":"quantitative","scale":{"domain":[1.25,203.25],"nice":false,"zero":false}},"y":{"field":"v","type":"quantitative","scale":{"domain":[-0.00139,0.00436],"nice":false,"zero":false}}}},
{"data":{"name":"macdText"},"mark":{"type":"text","align":"left","baseline":"middle","font":"Open Sans","fontSize":12.2},"encoding":{"x":{"field":"t","type":"quantitative","scale":{"domain":[1.25,203.25],"nice":false,"zero":false}},"y":{"field":"p","type":"quantitative","scale":{"domain":[-0.00139,0.00436],"nice":false,"zero":false}},"text":{"field":"s"},"color":{"field":"r","type":"nominal","legend":null,"scale":{"domain":["gs","gw","rs","rw","name","param","macd","signal"],"range":["#22ab94","#ace5dc","#ff5252","#fccbcd","#131722","#787b86","#2196f3","#ff4081"]}}}},
{"data":{"name":"macdTags"},"mark":{"type":"rect","cornerRadius":2},"encoding":{"x":{"field":"a","type":"quantitative","scale":{"domain":[1.25,203.25],"nice":false,"zero":false}},"x2":{"field":"b"},"y":{"field":"top","type":"quantitative","scale":{"domain":[-0.00139,0.00436],"nice":false,"zero":false}},"y2":{"field":"bot"},"color":{"field":"r","type":"nominal","legend":null,"scale":{"domain":["gs","gw","rs","rw","name","param","macd","signal"],"range":["#22ab94","#ace5dc","#ff5252","#fccbcd","#131722","#787b86","#2196f3","#ff4081"]}}}},
{"data":{"name":"macdTags"},"mark":{"type":"text","align":"left","baseline":"middle","font":"Roboto","fontSize":11.5,"color":"#ffffff"},"encoding":{"x":{"field":"x","type":"quantitative","scale":{"domain":[1.25,203.25],"nice":false,"zero":false}},"y":{"field":"mid","type":"quantitative","scale":{"domain":[-0.00139,0.00436],"nice":false,"zero":false}},"text":{"field":"s"}}},
{"data":{"values":[{"t":5.13,"p":-0.00098}]},"mark":{"type":"point","shape":"circle","size":1000,"filled":true,"fill":"#ffffff","stroke":"#e0e3eb","strokeWidth":1,"opacity":1},"encoding":{"x":{"field":"t","type":"quantitative","scale":{"domain":[1.25,203.25],"nice":false,"zero":false}},"y":{"field":"p","type":"quantitative","scale":{"domain":[-0.00139,0.00436],"nice":false,"zero":false}}}},
{"data":{"values":[{"t":5.13,"p":-0.00098}]},"mark":{"type":"point","shape":"M-0.97,-0.48L-0.18,-0.48L-0.18,0.48L-0.55,0.48L-0.55,-0.21L-0.97,-0.21ZM-0.06,-0.48L0.24,-0.48L0.24,-0.2L-0.06,-0.2ZM0.33,-0.48L1,-0.48L0.55,0.48L0.02,0.48Z","size":484,"filled":true,"fill":"#131722","strokeWidth":0,"opacity":1},"encoding":{"x":{"field":"t","type":"quantitative","scale":{"domain":[1.25,203.25],"nice":false,"zero":false}},"y":{"field":"p","type":"quantitative","scale":{"domain":[-0.00139,0.00436],"nice":false,"zero":false}}}},
{"data":{"values":[{"t":209.25,"p":-0.00165,"s":"☼"}]},"mark":{"type":"text","align":"center","baseline":"middle","font":"DejaVu Sans","fontSize":22,"color":"#131722"},"encoding":{"x":{"field":"t","type":"quantitative","scale":{"domain":[1.25,203.25],"nice":false,"zero":false}},"y":{"field":"p","type":"quantitative","scale":{"domain":[-0.00139,0.00436],"nice":false,"zero":false}},"text":{"field":"s"}}}
]}
]
}
